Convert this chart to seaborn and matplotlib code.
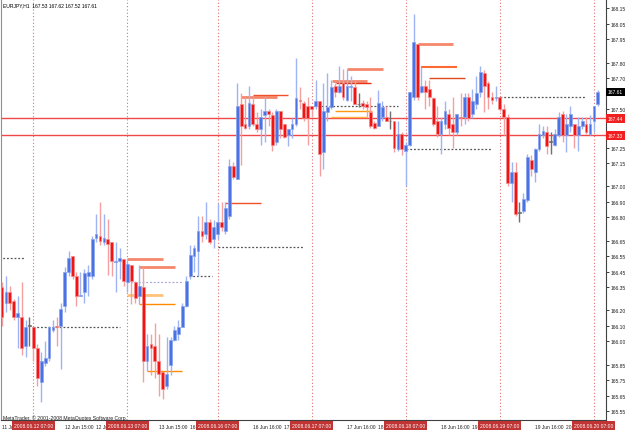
import numpy as np
import pandas as pd
import matplotlib
matplotlib.use("Agg")
import matplotlib.pyplot as plt
import seaborn as sns
from matplotlib.transforms import blended_transform_factory

# ---------------- data (EURJPY, H1) ----------------
opens = [166.35, 166.25, 166.32, 166.26, 166.16, 166.16, 165.97, 166.10, 166.09, 165.96,
         165.74, 165.86, 165.89, 166.07, 166.10, 166.10, 166.23, 166.45, 166.55, 166.42,
         166.29, 166.32, 166.42, 166.42, 166.67, 166.68, 166.64, 166.66, 166.64, 166.51,
         166.52, 166.53, 166.38, 166.49, 166.38, 166.29, 166.35, 165.87, 165.98, 165.97,
         165.87, 165.80, 165.71, 165.85, 166.01, 166.05, 166.09, 166.23, 166.42, 166.55,
         166.58, 166.71, 166.69, 166.77, 166.66, 166.69, 166.77, 166.71, 166.81, 167.13,
         167.05, 167.53, 167.40, 167.39, 167.53, 167.40, 167.37, 167.46, 167.49, 167.46,
         167.29, 167.49, 167.40, 167.33, 167.37, 167.40, 167.56, 167.54, 167.52, 167.52,
         167.52, 167.55, 167.22, 167.48, 167.51, 167.65, 167.61, 167.67, 167.56, 167.64,
         167.64, 167.53, 167.54, 167.53, 167.48, 167.41, 167.39, 167.45, 167.45, 167.42,
         167.42, 167.24, 167.34, 167.23, 167.27, 167.58, 167.92, 167.61, 167.65, 167.63,
         167.57, 167.42, 167.34, 167.40, 167.47, 167.40, 167.35, 167.45, 167.45, 167.58,
         167.47, 167.53, 167.61, 167.73, 167.67, 167.58, 167.57, 167.58, 167.50, 167.45,
         167.02, 167.09, 166.83, 166.84, 166.91, 167.17, 167.09, 167.24, 167.33, 167.35,
         167.29, 167.27, 167.33, 167.47, 167.33, 167.39, 167.40, 167.33, 167.39, 167.40,
         167.34, 167.42, 167.53]
highs = [166.38, 166.42, 166.36, 166.27, 166.29, 166.38, 166.14, 166.16, 166.09, 165.98,
         165.93, 166.00, 166.10, 166.14, 166.16, 166.25, 166.48, 166.58, 166.55, 166.45,
         166.45, 166.47, 166.49, 166.68, 166.82, 166.90, 166.82, 166.79, 166.64, 166.64,
         166.60, 166.53, 166.53, 166.49, 166.39, 166.49, 166.48, 166.05, 166.05, 166.12,
         166.05, 165.80, 166.03, 166.03, 166.10, 166.14, 166.25, 166.42, 166.62, 166.62,
         166.81, 166.81, 166.90, 166.79, 166.78, 166.89, 166.90, 166.90, 167.18, 167.16,
         167.67, 167.60, 167.58, 167.65, 167.58, 167.48, 167.50, 167.58, 167.50, 167.48,
         167.50, 167.49, 167.40, 167.37, 167.44, 167.83, 167.64, 167.55, 167.58, 167.52,
         167.69, 167.55, 167.67, 167.73, 167.69, 167.67, 167.78, 167.76, 167.76, 167.71,
         167.68, 167.60, 167.56, 167.55, 167.58, 167.42, 167.62, 167.55, 167.52, 167.49,
         167.42, 167.42, 167.35, 167.29, 167.61, 168.11, 167.92, 167.77, 167.69, 167.69,
         167.58, 167.52, 167.45, 167.55, 167.50, 167.58, 167.47, 167.60, 167.60, 167.60,
         167.63, 167.71, 167.78, 167.75, 167.68, 167.61, 167.65, 167.58, 167.53, 167.47,
         167.16, 167.16, 166.90, 166.96, 167.21, 167.20, 167.25, 167.40, 167.39, 167.39,
         167.35, 167.37, 167.48, 167.49, 167.47, 167.52, 167.40, 167.45, 167.45, 167.45,
         167.46, 167.52, 167.62]
lows = [166.10, 166.19, 166.20, 166.14, 165.96, 165.91, 165.90, 165.97, 165.87, 165.71,
        165.61, 165.84, 165.87, 166.06, 165.97, 165.82, 166.19, 166.42, 166.40, 166.23,
        166.29, 166.25, 166.29, 166.40, 166.64, 166.62, 166.62, 166.43, 166.42, 166.32,
        166.40, 166.36, 166.32, 166.24, 166.25, 166.24, 165.74, 165.81, 165.78, 165.76,
        165.65, 165.63, 165.69, 165.78, 166.00, 166.01, 166.09, 166.22, 166.40, 166.45,
        166.42, 166.64, 166.66, 166.63, 166.60, 166.66, 166.71, 166.69, 166.79, 167.05,
        167.05, 167.14, 167.37, 167.37, 167.39, 167.35, 167.27, 167.29, 167.39, 167.23,
        167.27, 167.31, 167.31, 167.26, 167.31, 167.39, 167.50, 167.42, 167.27, 167.45,
        167.50, 167.07, 167.11, 167.42, 167.50, 167.58, 167.60, 167.56, 167.55, 167.55,
        167.53, 167.51, 167.50, 167.45, 167.38, 167.37, 167.39, 167.42, 167.42, 167.37,
        167.22, 167.23, 167.20, 167.00, 167.26, 167.56, 167.56, 167.60, 167.50, 167.52,
        167.39, 167.32, 167.21, 167.37, 167.33, 167.25, 167.33, 167.39, 167.40, 167.42,
        167.44, 167.50, 167.58, 167.48, 167.50, 167.53, 167.55, 167.49, 167.33, 167.00,
        166.90, 166.81, 166.77, 166.83, 166.90, 167.07, 167.03, 167.23, 167.31, 167.21,
        167.21, 167.26, 167.32, 167.29, 167.22, 167.35, 167.25, 167.23, 167.37, 167.34,
        167.33, 167.35, 167.52]
closes = [166.16, 166.32, 166.25, 166.16, 166.18, 165.96, 166.09, 166.10, 165.96, 165.76,
          165.87, 165.89, 166.09, 166.09, 166.09, 166.21, 166.45, 166.54, 166.42, 166.29,
          166.30, 166.44, 166.45, 166.66, 166.69, 166.65, 166.67, 166.63, 166.52, 166.52,
          166.54, 166.39, 166.50, 166.39, 166.28, 166.36, 165.87, 165.97, 165.96, 165.87,
          165.79, 165.69, 165.79, 166.01, 166.07, 166.09, 166.23, 166.39, 166.56, 166.60,
          166.71, 166.68, 166.77, 166.64, 166.74, 166.77, 166.74, 166.86, 167.13, 167.06,
          167.52, 167.39, 167.38, 167.54, 167.40, 167.37, 167.45, 167.49, 167.47, 167.27,
          167.49, 167.37, 167.32, 167.37, 167.40, 167.57, 167.55, 167.44, 167.44, 167.50,
          167.55, 167.21, 167.49, 167.51, 167.64, 167.61, 167.65, 167.58, 167.65, 167.65,
          167.53, 167.53, 167.52, 167.51, 167.39, 167.38, 167.54, 167.51, 167.42, 167.42,
          167.25, 167.34, 167.24, 167.27, 167.61, 167.93, 167.58, 167.65, 167.61, 167.58,
          167.40, 167.34, 167.42, 167.49, 167.38, 167.35, 167.47, 167.44, 167.58, 167.44,
          167.55, 167.60, 167.74, 167.65, 167.58, 167.56, 167.58, 167.50, 167.45, 167.02,
          167.09, 166.82, 166.83, 166.92, 167.19, 167.11, 167.24, 167.34, 167.36, 167.26,
          167.29, 167.34, 167.45, 167.33, 167.40, 167.47, 167.33, 167.39, 167.42, 167.35,
          167.40, 167.52, 167.61]

# time axis
time_tick_bars = [0, 16, 24, 40, 48, 64, 72, 88, 96, 112, 120, 136, 144]
time_tick_labels = ["11 Jun 23:00", "12 Jun 15:00", "12 Jun 23:00", "13 Jun 15:00",
                    "16 Jun 00:00", "16 Jun 16:00", "17 Jun 00:00", "17 Jun 16:00",
                    "18 Jun 00:00", "18 Jun 16:00", "19 Jun 00:00", "19 Jun 16:00",
                    "20 Jun 00:00"]
day_line_bars = [8, 32, 55, 79, 103, 127, 151]
day_line_labels = ["2008.06.12 07:00", "2008.06.13 07:00", "2008.06.16 07:00",
                   "2008.06.17 07:00", "2008.06.18 07:00", "2008.06.19 07:00",
                   "2008.06.20 07:00"]

# price axis
price_ticks = [168.15, 168.05, 167.95, 167.80, 167.70, 167.50, 167.35, 167.25, 167.15,
               167.00, 166.90, 166.80, 166.65, 166.55, 166.45, 166.35, 166.20, 166.10,
               166.00, 165.85, 165.75, 165.65, 165.55]
hline_levels = [167.44, 167.33]
bid_price = 167.61

# dotted daily levels: (start bar, end bar, price, colour)
daily_start = [-16, 8, 32, 47.7, 55, 79.5, 103, 127]
daily_end = [5.6, 30, 46, 53.6, 77, 101, 125, 149]
daily_price = [166.54, 166.09, 166.38, 166.42, 166.61, 167.52, 167.24, 167.58]
daily_color = ["#555555", "#555555", "#a8a8d8", "#555555", "#555555", "#555555", "#555555", "#555555"]

# short resistance/support segments
seg_start = [31.9, 35.0, 31.9, 35.0, 37.0, 56.9, 61.0, 64.0, 88.0, 84.2, 85.2, 85.0, 84.0, 106.0, 107.0, 109.0]
seg_end = [41.1, 44.1, 41.1, 44.1, 45.9, 66.1, 70.2, 73.0, 97.2, 93.1, 94.1, 94.4, 93.0, 115.0, 116.0, 118.0]
seg_price = [166.53, 166.48, 166.30, 166.24, 165.81, 166.89, 167.58, 167.59, 167.76, 167.68, 167.67, 167.49, 167.45, 167.92, 167.77, 167.70]
seg_color = ["#f4876a", "#f4876a", "#ffc27a", "#ff8a00", "#ff8c00", "#f0502a", "#f4876a", "#f0502a",
             "#f4876a", "#f4876a", "#e83010", "#ff9a10", "#ffb040", "#f4876a", "#ff6a30", "#e04a20"]
seg_width = [2.0, 2.0, 2.0, 1.0, 1.0, 1.0, 2.0, 1.0, 2.0, 2.0, 1.0, 1.0, 1.0, 2.0, 1.5, 1.0]

# ---------------- figure ----------------
sns.set_theme(style="white")
plt.rcParams["font.family"] = ["Liberation Sans Narrow", "Liberation Sans", "DejaVu Sans"]

df = pd.DataFrame({"open": opens, "high": highs, "low": lows, "close": closes})
df["bar"] = np.arange(len(df))
diff = df["close"] - df["open"]
df["kind"] = np.where(diff.abs() < 0.005, "doji", np.where(diff > 0, "up", "down"))

body_col = {"up": "#4a72e2", "down": "#f01414", "doji": "#505050"}
wick_col = {"up": "#9fb4f2", "down": "#f5a0a0", "doji": "#707070"}
edge_col = {"up": "#8aa4ee", "down": "#f48a8a", "doji": "#707070"}

fig = plt.figure(figsize=(6.25, 4.31), dpi=100)
fig.patch.set_facecolor("white")
ax = fig.add_axes([1 / 625, 10 / 431, 605 / 625, 421 / 431])
ax.set_facecolor("white")

# day separators
for b in day_line_bars:
    ax.axvline(b, color="#e07070", lw=0.8, ls=(0, (1, 2)), zorder=1)

# horizontal levels
for lv in hline_levels:
    ax.axhline(lv, color="#f04848", lw=1.0, zorder=1.5)

for s, e, p, c in zip(daily_start, daily_end, daily_price, daily_color):
    ax.hlines(p, s, e, colors=c, lw=0.9, linestyles=(0, (1.5, 1.5)), zorder=1.6)

for s, e, p, c, w in zip(seg_start, seg_end, seg_price, seg_color, seg_width):
    ax.hlines(p, s, e, colors=c, lw=w, zorder=1.7)

# candles
for kind in ["up", "down", "doji"]:
    sub = df[df["kind"] == kind]
    ax.vlines(sub["bar"], sub["low"], sub["high"], colors=wick_col[kind], lw=1.0, zorder=2)
    bottoms = np.minimum(sub["open"], sub["close"])
    heights = np.maximum((sub["close"] - sub["open"]).abs(), 0.004)
    ax.bar(sub["bar"], heights, bottom=bottoms, width=0.72, color=body_col[kind],
           edgecolor=edge_col[kind], linewidth=0.5, zorder=3)

ax.set_xlim(-0.255, 154.08)
ax.set_ylim(165.492, 168.21)

# axes styling
ax.spines["top"].set_visible(False)
ax.spines["left"].set_color("#909090")
ax.spines["right"].set_color("#404040")
ax.spines["bottom"].set_color("#404040")
for sp in ["left", "right", "bottom"]:
    ax.spines[sp].set_linewidth(0.8)

ax.yaxis.tick_right()
ax.set_yticks(price_ticks)
ax.set_yticklabels([f"{v:.2f}" for v in price_ticks])
ax.tick_params(axis="y", direction="out", length=2, width=0.6, pad=1.2,
               labelsize=3.6, colors="#202020")
ax.set_xticks(time_tick_bars)
ax.set_xticklabels(time_tick_labels)
ax.tick_params(axis="x", direction="out", length=2, width=0.6, pad=1.2,
               labelsize=3.5, colors="#202020")
for lab in ax.get_xticklabels():
    lab.set_horizontalalignment("left")
ax.grid(False)

# boxed time labels of the day separators
tx = ax.get_xaxis_transform()
for b, t in zip(day_line_bars, day_line_labels):
    ax.text(b, -0.0135, t, transform=tx, ha="center", va="center", fontsize=3.6,
            color="white", clip_on=False, zorder=10,
            bbox=dict(boxstyle="square,pad=0.35", fc="#c03434", ec="none"))

# boxed price labels
ty = blended_transform_factory(ax.transAxes, ax.transData)
for lv in hline_levels:
    ax.text(1.003, lv, f"{lv:.2f}", transform=ty, ha="left", va="center", fontsize=3.6,
            color="white", clip_on=False, zorder=10,
            bbox=dict(boxstyle="square,pad=0.35", fc="#f02020", ec="none"))
ax.text(1.003, bid_price, f"{bid_price:.2f}", transform=ty, ha="left", va="center",
        fontsize=3.6, color="white", clip_on=False, zorder=10,
        bbox=dict(boxstyle="square,pad=0.35", fc="black", ec="none"))

# header and copyright
fig.text(3 / 625, 1 - 6 / 431,
         f"EURJPY,H1  {opens[-1]:.2f} {highs[-1]:.2f} {lows[-1]:.2f} {closes[-1]:.2f}",
         fontsize=3.6, color="black", ha="left", va="center")
ax.text(2 / 605, 3 / 421, "MetaTrader, \u00a9 2001-2008 MetaQuotes Software Corp.",
        transform=ax.transAxes, fontsize=3.7, color="#202020", ha="left", va="center")

fig.savefig("out.png", dpi=100, facecolor="white")
